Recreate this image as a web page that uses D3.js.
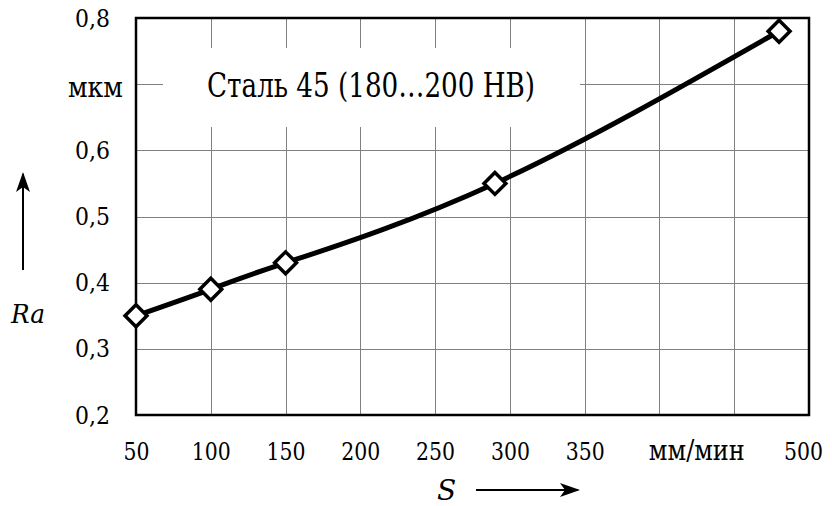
<!DOCTYPE html>
<html>
<head>
<meta charset="utf-8">
<script src="https://cdn.jsdelivr.net/npm/d3@7"></script>
<style>
  body { margin: 0; background: #fff; }
  svg { display: block; }
  .grid line { stroke: #808080; stroke-width: 1; shape-rendering: crispEdges; }
  .grid .domain { display: none; }
  .labels .domain { display: none; }
  .labels line { display: none; }
</style>
</head>
<body>
<div id="chart"></div>
<script>
// data
var feeValues = [50, 100, 150, 290, 480];          // S, мм/мин
var roughValues = [0.35, 0.39, 0.43, 0.55, 0.78];  // Ra, мкм
var xTicks = [50, 100, 150, 200, 250, 300, 350, 400, 450, 500];
var yTicks = [0.2, 0.3, 0.4, 0.5, 0.6, 0.7, 0.8];
var xUnit = "мм/мин";
var yUnit = "мкм";
var titleText = "Сталь 45 (180…200 НВ)";

var serif = "'DejaVu Serif', serif";

var W = 832, H = 506;
var margin = {top: 18, right: 23, bottom: 91, left: 136};
var width = W - margin.left - margin.right;
var height = H - margin.top - margin.bottom;

var x = d3.scaleLinear().domain([50, 500]).range([0, width]);
var y = d3.scaleLinear().domain([0.2, 0.8]).range([height, 0]);

// width a tick label takes in the picture: digits are narrow there
function labelLength(s) {
    var n = 0;
    for (var i = 0; i < s.length; i++) n += (s[i] === ",") ? 9 : 13;
    return n;
}

var svgRoot = d3.select("#chart").append("svg")
    .attr("width", W)
    .attr("height", H);

var svg = svgRoot.append("g")
    .attr("transform", "translate(" + margin.left + "," + margin.top + ")");

// gridlines
svg.append("g")
    .attr("class", "grid")
    .attr("transform", "translate(0," + height + ")")
    .call(d3.axisBottom(x).tickValues(xTicks).tickSize(-height).tickFormat(""));

svg.append("g")
    .attr("class", "grid")
    .call(d3.axisLeft(y).tickValues(yTicks).tickSize(-width).tickFormat(""));

// white box behind the title hides the grid there
svg.append("rect")
    .attr("x", 163 - margin.left)
    .attr("y", 48 - margin.top)
    .attr("width", 580 - 163)
    .attr("height", 127 - 48)
    .attr("fill", "#fff");

svg.append("text")
    .attr("x", 207 - margin.left)
    .attr("y", 97 - margin.top)
    .attr("textLength", 328)
    .attr("lengthAdjust", "spacingAndGlyphs")
    .style("font-size", "33px")
    .text(titleText);

// frame
svg.append("rect")
    .attr("width", width)
    .attr("height", height)
    .attr("fill", "none")
    .attr("stroke", "#000")
    .attr("stroke-width", 2.5);

// tick labels
var fmt = d3.format(".1f");
var yAxis = svg.append("g")
    .attr("class", "labels")
    .call(d3.axisLeft(y).tickValues(yTicks).tickSize(0).tickPadding(26)
        .tickFormat(function(d) {
            if (Math.abs(d - 0.7) < 1e-9) return yUnit;
            return fmt(d).replace(".", ",");
        }));
yAxis.selectAll("text")
    .style("font-size", "25px")
    .attr("textLength", function() { return labelLength(this.textContent); })
    .attr("lengthAdjust", "spacingAndGlyphs")
    .filter(function(d) { return Math.abs(d - 0.7) < 1e-9; })
    .attr("x", -13)
    .attr("dy", "0.45em")
    .attr("textLength", 55)
    .style("font-size", "27px");

var xAxis = svg.append("g")
    .attr("class", "labels")
    .attr("transform", "translate(0," + height + ")")
    .call(d3.axisBottom(x).tickValues(xTicks).tickSize(0).tickPadding(27)
        .tickFormat(function(d) { return (d === 400 || d === 450) ? "" : d; }));
xAxis.selectAll("text")
    .style("font-size", "25px")
    .attr("textLength", function() { return labelLength(this.textContent); })
    .attr("lengthAdjust", "spacingAndGlyphs");
xAxis.selectAll("text").filter(function(d) { return d === 500; }).attr("dx", -6);

svg.append("text")
    .attr("x", x(425))
    .attr("y", height + 45)
    .attr("text-anchor", "middle")
    .attr("textLength", 96)
    .attr("lengthAdjust", "spacingAndGlyphs")
    .style("font-size", "27px")
    .text(xUnit);

// curve
var pts = feeValues.map(function(v, i) { return [v, roughValues[i]]; });
var line = d3.line()
    .x(function(d) { return x(d[0]); })
    .y(function(d) { return y(d[1]); })
    .curve(d3.curveNatural);

svg.append("path")
    .datum(pts)
    .attr("d", line)
    .attr("fill", "none")
    .attr("stroke", "#000")
    .attr("stroke-width", 5)
    .attr("stroke-linejoin", "round");

svg.selectAll(".mark")
    .data(pts)
    .enter()
    .append("path")
    .attr("class", "mark")
    .attr("d", d3.symbol(d3.symbolSquare).size(240))
    .attr("transform", function(d) {
        return "translate(" + x(d[0]) + "," + y(d[1]) + ") rotate(45)";
    })
    .attr("fill", "#fff")
    .attr("stroke", "#000")
    .attr("stroke-width", 3.5);

// axis names with arrows
var defs = svgRoot.append("defs");
defs.append("marker")
    .attr("id", "head")
    .attr("viewBox", "0 0 20 14")
    .attr("refX", 18)
    .attr("refY", 7)
    .attr("markerWidth", 20)
    .attr("markerHeight", 14)
    .attr("markerUnits", "userSpaceOnUse")
    .attr("orient", "auto")
    .append("path")
    .attr("d", "M0,0 L20,7 L0,14 L5,7 Z")
    .attr("fill", "#000");

svgRoot.append("line")
    .attr("x1", 23).attr("y1", 270)
    .attr("x2", 23).attr("y2", 174)
    .attr("stroke", "#000")
    .attr("stroke-width", 2)
    .attr("marker-end", "url(#head)");

svgRoot.append("text")
    .attr("x", 11)
    .attr("y", 323)
    .attr("textLength", 34)
    .attr("lengthAdjust", "spacingAndGlyphs")
    .style("font-size", "26px")
    .style("font-style", "italic")
    .text("Ra");

svgRoot.append("text")
    .attr("x", 437)
    .attr("y", 500)
    .style("font-size", "28px")
    .style("font-style", "italic")
    .text("S");

svgRoot.append("line")
    .attr("x1", 476).attr("y1", 490)
    .attr("x2", 578).attr("y2", 490)
    .attr("stroke", "#000")
    .attr("stroke-width", 2)
    .attr("marker-end", "url(#head)");

// one font for every text, set on the element itself
svgRoot.selectAll("text")
    .style("font-family", serif)
    .attr("fill", "#000");
</script>
</body>
</html>
